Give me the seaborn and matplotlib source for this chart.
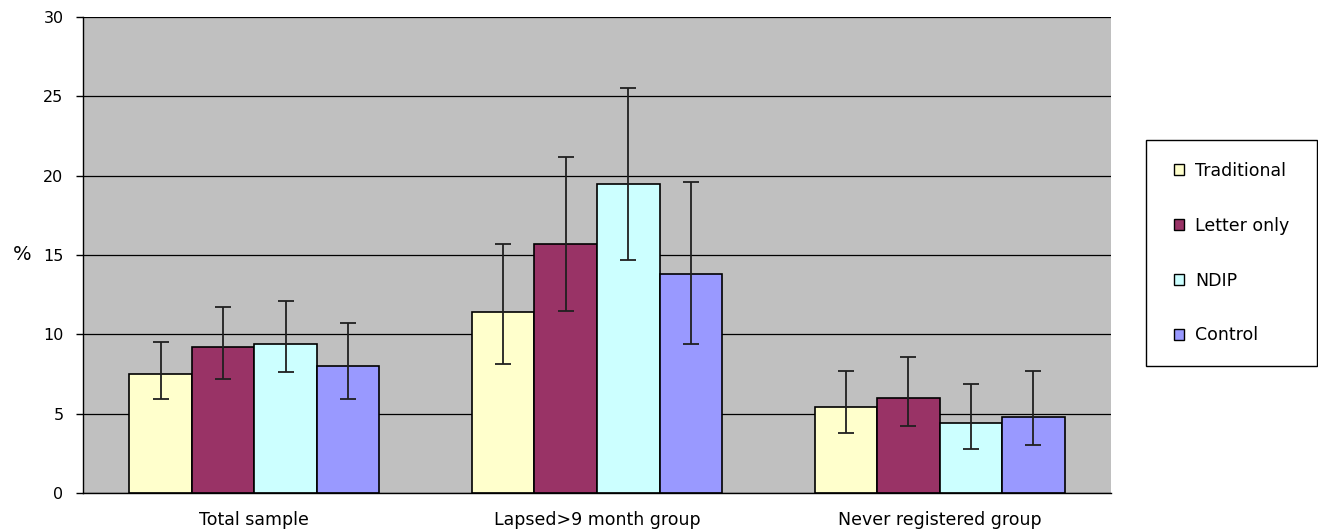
import numpy as np
import pandas as pd
import matplotlib
matplotlib.use("Agg")
import matplotlib.pyplot as plt
import seaborn as sns

# ── Data ──────────────────────────────────────────────────────────────
groups = ["Total sample", "Lapsed>9 month group", "Never registered group"]
arms = ["Traditional", "Letter only", "NDIP", "Control"]

traditional = [7.5, 11.4, 5.4]
letter_only = [9.2, 15.7, 6.0]
ndip = [9.4, 19.5, 4.4]
control = [8.0, 13.8, 4.8]

traditional_lo = [5.9, 8.1, 3.8]
letter_only_lo = [7.2, 11.5, 4.2]
ndip_lo = [7.6, 14.7, 2.8]
control_lo = [5.9, 9.4, 3.0]

traditional_hi = [9.5, 15.7, 7.7]
letter_only_hi = [11.7, 21.2, 8.6]
ndip_hi = [12.1, 25.5, 6.9]
control_hi = [10.7, 19.6, 7.7]

colors = ["#FFFFCC", "#993366", "#CCFFFF", "#9999FF"]

vals = [traditional, letter_only, ndip, control]
los = [traditional_lo, letter_only_lo, ndip_lo, control_lo]
his = [traditional_hi, letter_only_hi, ndip_hi, control_hi]

rows = []
for arm, v, lo, hi in zip(arms, vals, los, his):
    for g, a, b, c in zip(groups, v, lo, hi):
        rows.append({"group": g, "arm": arm, "pct": a, "lo": b, "hi": c})
df = pd.DataFrame(rows)

# ── Figure ────────────────────────────────────────────────────────────
sns.set_style("white")
plt.rcParams["font.family"] = ["DejaVu Sans"]
plt.rcParams["text.color"] = "black"
plt.rcParams["xtick.color"] = "black"
plt.rcParams["ytick.color"] = "black"
plt.rcParams["axes.labelcolor"] = "black"
W, H = 1318, 531

fig = plt.figure(figsize=(W / 100, H / 100), dpi=100)
ax = fig.add_axes([83 / W, 38 / H, 1028 / W, 476 / H])
ax.set_facecolor("#C0C0C0")

sns.barplot(data=df, x="group", y="pct", hue="arm", order=groups,
            hue_order=arms, palette=colors, width=0.73, errorbar=None,
            edgecolor="black", linewidth=1.2, saturation=1, ax=ax,
            zorder=2)

for cont, arm in zip(ax.containers, arms):
    sub = df[df["arm"] == arm].set_index("group").loc[groups]
    xs = [p.get_x() + p.get_width() / 2 for p in cont.patches]
    yerr = [sub["pct"] - sub["lo"], sub["hi"] - sub["pct"]]
    ax.errorbar(xs, sub["pct"], yerr=yerr, fmt="none", ecolor="#202020",
                elinewidth=1.3, capsize=6, capthick=1.3, zorder=3)

ax.set_ylim(0, 30)
ax.set_xlim(-0.5, 2.5)
ax.set_yticks(np.arange(0, 31, 5))
ax.yaxis.grid(True, color="black", linewidth=0.9, zorder=0)
ax.set_axisbelow(True)
ax.set_xticks([-0.5, 0.5, 1.5, 2.5], minor=True)
ax.tick_params(axis="x", which="major", length=0, labelsize=12.5, pad=13)
ax.tick_params(axis="x", which="minor", length=5, width=1, color="black",
               direction="out")
ax.tick_params(axis="y", length=5, width=1, color="black", direction="out",
               labelsize=11.5, pad=9, left=True)
ax.set_xlabel("")
ax.set_ylabel("%", rotation=0, fontsize=14, ha="center", va="center")
ax.yaxis.set_label_coords(-0.059, 0.5)

for s in ["top", "right"]:
    ax.spines[s].set_visible(False)
for s in ["left", "bottom"]:
    ax.spines[s].set_color("black")
    ax.spines[s].set_linewidth(1)

# legend: frame drawn separately so the box can be wider than its content
ax.legend_.remove()
fig.patches.append(plt.Rectangle((1146 / W, (H - 366) / H), 171 / W, 226 / H,
                                 transform=fig.transFigure, facecolor="white",
                                 edgecolor="black", linewidth=1))
handles = [plt.Rectangle((0, 0), 1, 1, facecolor=c, edgecolor="black",
                         linewidth=1) for c in colors]
fig.legend(handles, arms, loc="upper left",
           bbox_to_anchor=(1174 / W, (H - 162) / H),
           fontsize=12.5, frameon=False, borderpad=0, borderaxespad=0,
           handlelength=0.6, handleheight=0.6, handletextpad=0.6,
           labelspacing=2.12)

fig.savefig("out.png", dpi=100)
